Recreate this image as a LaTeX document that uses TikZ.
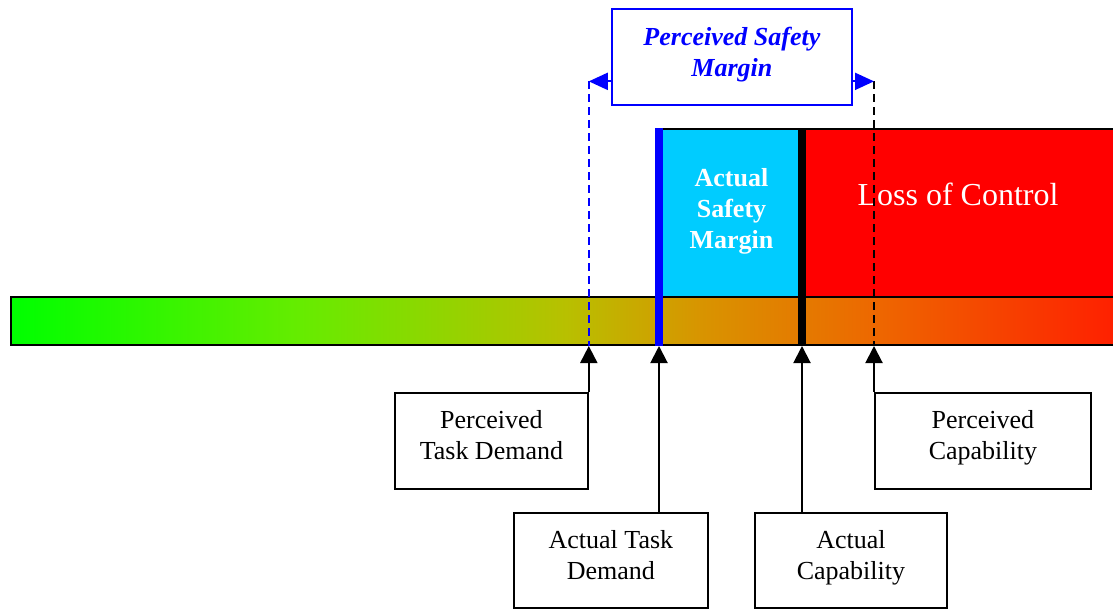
\documentclass[tikz,border=0pt]{standalone}
\usepackage{fontspec}
\setmainfont{Liberation Serif}
\usetikzlibrary{arrows.meta,calc}
\definecolor{g0}{HTML}{00FF00}
\definecolor{g1}{HTML}{66EC00}
\definecolor{g2}{HTML}{B8C000}
\definecolor{g3}{HTML}{D89400}
\definecolor{g4}{HTML}{EE6600}
\definecolor{g5}{HTML}{FF1E00}
\definecolor{skycyan}{HTML}{00CCFF}
\pgfdeclarehorizontalshading{gyr}{100bp}{color(0bp)=(g0); color(25bp)=(g0); color(38.06bp)=(g1); color(50bp)=(g2); color(56.08bp)=(g3); color(64.19bp)=(g4); color(75bp)=(g5); color(100bp)=(g5)}
\tikzset{
  lblbox/.style={draw=black, line width=1.8pt, fill=white, minimum height=96pt,
    align=center, inner sep=0pt, anchor=north west, text depth=11pt,
    font=\fontsize{26}{31}\selectfont},
  uparrow/.style={line width=2pt, -{Triangle[length=17pt,width=17pt]}},
  bluearrow/.style={blue, line width=2pt, -{Triangle[length=19pt,width=17pt]}},
  bluedash/.style={blue, line width=2pt, dash pattern=on 8pt off 5pt},
  blackdash/.style={black, line width=2pt, dash pattern=on 8pt off 5pt},
}
\begin{document}
\begin{tikzpicture}[x=1pt,y=-1pt]
\useasboundingbox (0,0) rectangle (1113,608);
\clip (0,0) rectangle (1113,608);
% gradient bar
\node[draw=black, line width=2pt, shading=gyr, shade, anchor=north west,
  minimum width=1110pt, minimum height=48pt, inner sep=0pt] (bar) at (10,296) {};
% actual safety margin
\node[draw=black, line width=2pt, fill=skycyan, anchor=north west,
  minimum width=143pt, minimum height=168pt, inner sep=0pt, align=center,
  text=white, text depth=10pt, font=\fontsize{26}{31}\selectfont\bfseries] (asm) at (659,128)
  {Actual\\Safety\\Margin};
% loss of control region
\node[draw=black, line width=2pt, fill=red, anchor=north west,
  minimum width=320pt, minimum height=168pt, inner sep=0pt] (loc) at (802,128) {};
\node[text=white, font=\fontsize{32}{38}\selectfont, inner sep=0pt] (loctxt) at (958,194) {Loss of Control};
% vertical bars
\draw[blue, line width=8pt] (asm.north west) -- (asm.north west |- bar.south);
\draw[black, line width=8pt] (loc.north west) -- (loc.north west |- bar.south);
% label boxes
\node[lblbox, minimum width=193pt] (ptd) at (394,392) {Perceived\\Task Demand};
\node[lblbox, minimum width=194pt, minimum height=95pt] (atd) at (513,512) {Actual Task\\Demand};
\node[lblbox, minimum width=192pt, minimum height=95pt] (ac) at (754,512) {Actual\\Capability};
\node[lblbox, minimum width=216pt] (pc) at (874,392) {Perceived\\Capability};
% perceived safety margin box
\node[draw=blue, line width=1.8pt, fill=white, anchor=north west, minimum width=240pt,
  minimum height=96pt, inner sep=0pt, align=center, text=blue, text depth=11pt,
  font=\fontsize{26}{31}\selectfont\bfseries\itshape] (psm) at (611,8)
  {Perceived Safety\\Margin};
\coordinate (la) at ($(psm.south west)!.25!(psm.north west)$);
\coordinate (ra) at ($(psm.south east)!.25!(psm.north east)$);
\coordinate (lt) at (la -| ptd.north east);
\coordinate (rt) at (ra -| pc.north west);
\draw[bluedash] (lt) -- (ptd.north east |- bar.south);
\draw[blackdash] (rt) -- (pc.north west |- bar.south);
\draw[bluearrow] (la) -- (lt);
\draw[bluearrow] (ra) -- (rt);
% arrows from boxes to bar
\draw[uparrow] (ptd.north east) -- (ptd.north east |- bar.south);
\draw[uparrow] (asm.south west |- atd.north) -- (asm.south west |- bar.south);
\draw[uparrow] (loc.south west |- ac.north) -- (loc.south west |- bar.south);
\draw[uparrow] (pc.north west) -- (pc.north west |- bar.south);
\end{tikzpicture}
\end{document}
